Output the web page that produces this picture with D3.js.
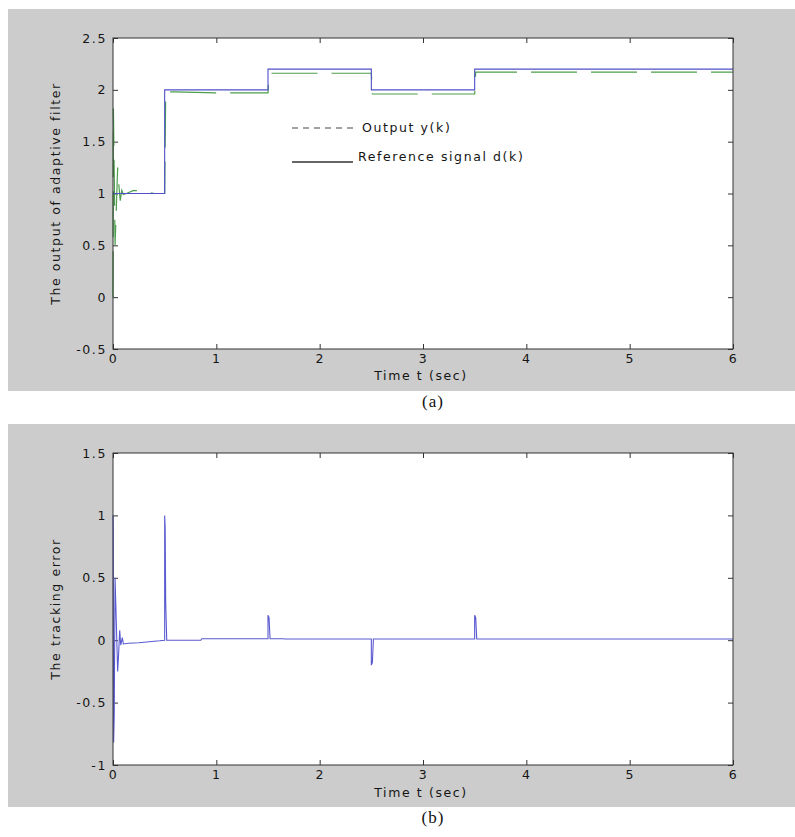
<!DOCTYPE html>
<html><head><meta charset="utf-8">
<script src="https://cdn.jsdelivr.net/npm/d3@7"></script>
<style>
body{margin:0;background:#fff}
svg text{font-family:"DejaVu Sans",Verdana,sans-serif}
</style></head>
<body><svg id="c" width="795" height="837"></svg>
<script>
// ---------- data ----------
const xTicks = [0, 1, 2, 3, 4, 5, 6];
const xTickLabels = ["0", "1", "2", "3", "4", "5", "6"];
const yTicksA = [-0.5, 0, 0.5, 1, 1.5, 2, 2.5];
const yTickLabelsA = ["-0.5", "0", "0.5", "1", "1.5", "2", "2.5"];
const yTicksB = [-1, -0.5, 0, 0.5, 1, 1.5];
const yTickLabelsB = ["-1", "-0.5", "0", "0.5", "1", "1.5"];

// reference signal d(k)
const refT = [0, 0.5, 0.5, 1.5, 1.5, 2.5, 2.5, 3.5, 3.5, 6];
const refV = [1, 1, 2, 2, 2.2, 2.2, 2, 2, 2.2, 2.2];

// adaptive filter output y(k)
const outT = [0, 0.004, 0.012, 0.02, 0.03, 0.045, 0.055, 0.07, 0.085, 0.1, 0.13, 0.2, 0.3, 0.4, 0.5, 0.5, 0.51, 0.6, 1.0, 1.5, 1.5, 1.51, 1.6, 2.5, 2.5, 2.51, 2.6, 3.5, 3.5, 3.51, 3.6, 6];
const outV = [0, 1.82, 1.2, 0.5, 0.8, 1.25, 1.1, 0.93, 1.03, 0.99, 1.0, 1.03, 1.02, 1.0, 1.0, 1.0, 1.98, 1.98, 1.97, 1.97, 1.97, 2.16, 2.16, 2.16, 2.16, 1.96, 1.96, 1.96, 1.96, 2.17, 2.17, 2.17];

// tracking error
const errT = [0, 0.002, 0.006, 0.012, 0.02, 0.03, 0.045, 0.055, 0.065, 0.075, 0.09, 0.1, 0.15, 0.25, 0.35, 0.45, 0.5, 0.5, 0.505, 0.51, 0.52, 0.85, 0.86, 1.5, 1.5, 1.51, 1.52, 1.65, 1.66, 2.5, 2.5, 2.51, 2.52, 3.5, 3.5, 3.51, 3.52, 6];
const errV = [1, 0.9, -0.82, -0.6, 0.5, 0.2, -0.25, -0.1, 0.08, -0.04, 0.02, -0.03, -0.025, -0.02, -0.012, -0.005, 0, 1.0, 0.9, 0.3, 0, 0.0, 0.012, 0.012, 0.2, 0.18, 0.012, 0.012, 0.01, 0.01, -0.2, -0.18, 0.01, 0.01, 0.2, 0.18, 0.01, 0.01];

// ---------- layout ----------
const svg = d3.select("#c");
const L = 113, R = 733;
const panels = [
  {bg: [8, 9, 787, 382], top: 38, bottom: 349, yDomain: [-0.5, 2.5], yTicks: yTicksA, yLabels: yTickLabelsA,
   ylab: "The output of adaptive filter", xlabY: 380, caption: "(a)", capY: 407},
  {bg: [8, 424, 787, 383], top: 453, bottom: 765, yDomain: [-1, 1.5], yTicks: yTicksB, yLabels: yTickLabelsB,
   ylab: "The tracking error", xlabY: 797, caption: "(b)", capY: 823}
];
const FONT = "'DejaVu Sans', Verdana, sans-serif";
const LS = "1.6px";
const FS = 12.5;
const txtCol = "#151515";
const tickCol = "#333";

panels.forEach((p, i) => {
  const g = svg.append("g");
  g.append("rect").attr("x", p.bg[0]).attr("y", p.bg[1]).attr("width", p.bg[2]).attr("height", p.bg[3]).attr("fill", "#cccccc");
  g.append("rect").attr("x", L).attr("y", p.top).attr("width", R - L).attr("height", p.bottom - p.top).attr("fill", "#fff");

  const x = d3.scaleLinear().domain([0, 6]).range([L, R]);
  const y = d3.scaleLinear().domain(p.yDomain).range([p.bottom, p.top]);

  // axes with inside ticks on all four sides
  const ax = g.append("g").attr("transform", `translate(0,${p.bottom})`)
    .call(d3.axisBottom(x).tickValues(xTicks).tickSizeInner(-5).tickSizeOuter(0).tickPadding(5)
      .tickFormat((d, k) => xTickLabels[k]));
  const axT = g.append("g").attr("transform", `translate(0,${p.top})`)
    .call(d3.axisTop(x).tickValues(xTicks).tickSizeInner(-5).tickSizeOuter(0).tickFormat(""));
  const ay = g.append("g").attr("transform", `translate(${L},0)`)
    .call(d3.axisLeft(y).tickValues(p.yTicks).tickSizeInner(-5).tickSizeOuter(0).tickPadding(7)
      .tickFormat((d, k) => p.yLabels[k]));
  const ayR = g.append("g").attr("transform", `translate(${R},0)`)
    .call(d3.axisRight(y).tickValues(p.yTicks).tickSizeInner(-5).tickSizeOuter(0).tickFormat(""));
  [ax, axT, ay, ayR].forEach(a => {
    a.selectAll(".domain").remove();
    a.selectAll(".tick line").attr("stroke", tickCol);
    a.selectAll("text").attr("font-size", FS).attr("fill", txtCol).style("letter-spacing", LS)
      .attr("font-family", FONT);
  });
  ay.selectAll("text").attr("dx", "1px");

  // series
  const line = d3.line().x(d => x(d[0])).y(d => y(d[1]));
  if (i === 0) {
    const outData = outT.map((t, k) => [t, outV[k]]);
    const refData = refT.map((t, k) => [t, refV[k]]);
    g.append("path").datum(outData).attr("d", line).attr("fill", "none")
      .attr("stroke", "#4c9e4c").attr("stroke-width", 1.2).attr("stroke-dasharray", "46,14");
    g.append("path").datum(refData).attr("d", line).attr("fill", "none")
      .attr("stroke", "#5050c8").attr("stroke-width", 1.1);
  } else {
    const errData = errT.map((t, k) => [t, errV[k]]);
    g.append("path").datum(errData).attr("d", line).attr("fill", "none")
      .attr("stroke", "#5a5ad0").attr("stroke-width", 1.1);
  }

  // axes box
  g.append("rect").attr("x", L).attr("y", p.top).attr("width", R - L).attr("height", p.bottom - p.top)
    .attr("fill", "none").attr("stroke", "#333").attr("stroke-width", 1);

  // labels
  g.append("text").attr("x", 421).attr("y", p.xlabY).attr("text-anchor", "middle")
    .attr("font-size", FS).attr("fill", txtCol).style("letter-spacing", LS).text("Time t (sec)");
  const ymid = (p.top + p.bottom) / 2;
  g.append("text").attr("transform", `translate(60,${ymid}) rotate(-90)`).attr("text-anchor", "middle")
    .attr("font-size", FS).attr("fill", txtCol).style("letter-spacing", LS).text(p.ylab);
  g.append("text").attr("x", 433).attr("y", p.capY).attr("text-anchor", "middle")
    .style("font-family", "'Liberation Serif','Times New Roman',serif")
    .attr("font-size", 17).attr("fill", "#111").style("letter-spacing", "1px").text(p.caption);
});

// legend (panel a, no box)
const lg = svg.append("g");
lg.append("line").attr("x1", 292).attr("x2", 353).attr("y1", 128).attr("y2", 128)
  .attr("stroke", "#444").attr("stroke-width", 1.2).attr("stroke-dasharray", "6,5");
lg.append("text").attr("x", 362).attr("y", 132).attr("font-size", FS).attr("fill", txtCol)
  .style("letter-spacing", LS).text("Output y(k)");
lg.append("line").attr("x1", 292).attr("x2", 353).attr("y1", 162).attr("y2", 162)
  .attr("stroke", "#333").attr("stroke-width", 1.3);
lg.append("text").attr("x", 358).attr("y", 161).attr("font-size", FS).attr("fill", txtCol)
  .style("letter-spacing", LS).text("Reference signal d(k)");
</script></body></html>
